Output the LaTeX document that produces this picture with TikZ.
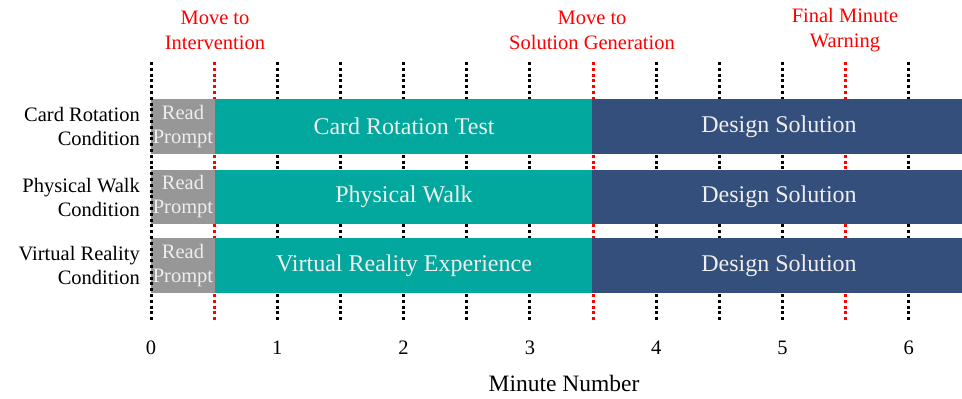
\documentclass[tikz,border=0pt]{standalone}
\usepackage{fontspec}
\setmainfont{Liberation Serif}
\definecolor{teal1}{HTML}{02A89D}
\definecolor{navy1}{HTML}{344F7B}
\definecolor{grey1}{HTML}{979797}
\definecolor{paletxt}{HTML}{EEEEEE}
\begin{document}
\begin{tikzpicture}[x=1pt,y=-1pt,
  tick/.style={line width=3pt,dash pattern=on 3pt off 2.8pt},
  marker/.style={font=\fontsize{20.5}{25}\selectfont,text=red,align=center,inner sep=0pt},
  rowlabel/.style={font=\fontsize{20.5}{24}\selectfont,align=right,anchor=east,inner sep=0pt},
  readtext/.style={text=paletxt,align=center,font=\fontsize{20.5}{24}\selectfont,inner sep=0pt},
  bartext/.style={text=paletxt,font=\fontsize{24}{28}\selectfont,inner sep=0pt},
  axisnum/.style={font=\fontsize{20.5}{24}\selectfont,inner sep=0pt}]
\useasboundingbox (0,0) rectangle (962,399);
% minute grid: 0 at x=151, 126.3 per minute
\foreach \m in {0,1,2,3,4,5,6} {
  \coordinate (t\m) at ({151+126.3*\m},62);
  \coordinate (b\m) at ({151+126.3*\m},322);
  \draw[tick] (t\m) -- (b\m);
  \node[axisnum] (n\m) at ({151+126.3*\m},348) {\m};
}
\foreach \m/\c in {0/red,1/black,2/black,3/red,4/black,5/red} {
  \coordinate (th\m) at ({151+126.3*(\m+0.5)},62);
  \coordinate (bh\m) at ({151+126.3*(\m+0.5)},322);
  \draw[tick,draw=\c] (th\m) -- (bh\m);
}
% phase bars
\foreach \r/\yc/\h/\mid in {1/126.5/55/Card Rotation Test,2/197/54/Physical Walk,3/265.5/55/Virtual Reality Experience} {
  \fill[grey1] (151,\yc-\h/2) rectangle (215,\yc+\h/2);
  \fill[teal1] (215,\yc-\h/2) rectangle (592,\yc+\h/2);
  \fill[navy1] (592,\yc-\h/2) rectangle (962,\yc+\h/2);
  \node[readtext] (rp\r) at (183,\yc) {Read\\Prompt};
  \node[bartext] (mid\r) at (404,\yc) {\mid};
  \node[bartext] (ds\r) at (779,\yc) {Design Solution};
}
% left edge line over the bars
\draw[tick] (t0) -- (b0);
% row labels
\node[rowlabel] (l1) at (140,126.5) {Card Rotation\\Condition};
\node[rowlabel] (l2) at (140,197) {Physical Walk\\Condition};
\node[rowlabel] (l3) at (140,265.5) {Virtual Reality\\Condition};
% event markers
\node[marker] (e1) at (215,30) {Move to\\Intervention};
\node[marker] (e2) at (592,30) {Move to\\Solution Generation};
\node[marker] (e3) at (845,30) {Final Minute\\Warning};
% axis title
\node[font=\fontsize{23.5}{28}\selectfont,inner sep=0pt] (ax) at (564,383) {Minute Number};
\end{tikzpicture}
\end{document}
